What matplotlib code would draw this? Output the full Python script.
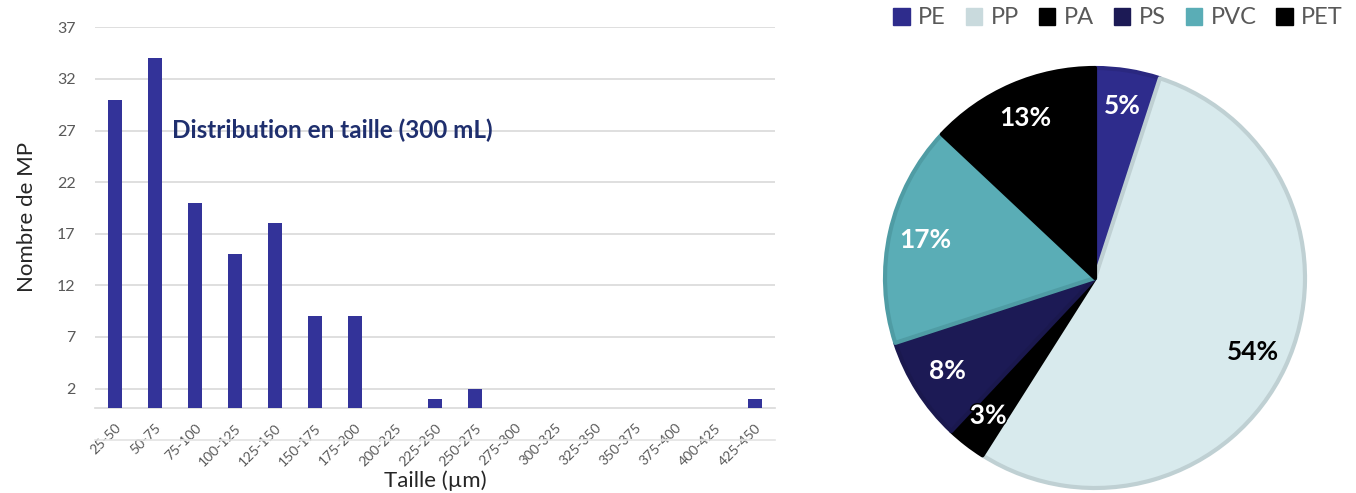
import matplotlib
import matplotlib.pyplot as plt
import matplotlib.patheffects as pe
from matplotlib.patches import Patch
from matplotlib.lines import Line2D
matplotlib.use('Agg')

# size distribution (number of microplastics per size class)
size_classes = ['25-50', '50-75', '75-100', '100-125', '125-150', '150-175',
                '175-200', '200-225', '225-250', '250-275', '275-300',
                '300-325', '325-350', '350-375', '375-400', '400-425',
                '425-450']
counts = [30, 34, 20, 15, 18, 9, 9, 0, 1, 2, 0, 0, 0, 0, 0, 0, 1]
y_ticks = [2, 7, 12, 17, 22, 27, 32, 37]

# polymer composition
polymers = ['PE', 'PP', 'PA', 'PS', 'PVC', 'PET']
shares = [5, 54, 3, 8, 17, 13]
poly_colors = ['#2E2C8C', '#D8EAED', '#000000', '#1C1A55', '#5AADB6', '#000000']
poly_edges = ['#2A2880', '#BFD0D3', '#000000', '#1A184E', '#4F9CA4', '#000000']
label_colors = ['white', 'black', 'white', 'white', 'white', 'white']

plt.rcParams['font.family'] = ['Lato', 'DejaVu Sans']

W, H = 1356, 493
fig = plt.figure(figsize=(W / 100, H / 100), dpi=100)

# ---- bar chart ----
ax = fig.add_axes([95 / W, (H - 407.7) / H, 680 / W, (407.7 - 27.3) / H])
x = range(len(size_classes))
ax.bar(x, counts, width=0.33, color='#333399', zorder=3)
ax.set_xlim(-0.5, len(size_classes) - 0.5)
ax.set_ylim(0.15, 37)
ax.set_yticks(y_ticks)
ax.yaxis.grid(True, color='#D9D9D9', linewidth=1.2)
ax.set_axisbelow(True)
for side in ['top', 'right', 'left']:
    ax.spines[side].set_visible(False)
ax.spines['bottom'].set_color('#D9D9D9')
ax.spines['bottom'].set_linewidth(1.2)
ax.tick_params(length=0, colors='#595959', labelsize=11.5, pad=14)
ax.tick_params(axis='x', pad=10, labelsize=10)
ax.set_xticks(list(x))
ax.set_xticklabels(size_classes, rotation=45, ha='right',
                   rotation_mode='anchor')
ax.set_xlabel('Taille (µm)', fontsize=16, color='#262626', labelpad=2)
ax.set_ylabel('Nombre de MP', fontsize=16, color='#262626', labelpad=14)
ax.text(172 / W, 1 - 130 / H, 'Distribution en taille (300 mL)',
        transform=fig.transFigure, fontsize=17.5, fontweight='bold',
        color='#1F2F6E', va='center', ha='left')
# faint line under the tick labels
fig.add_artist(Line2D([95 / W, 775 / W], [1 - 440 / H, 1 - 440 / H],
                      color='#E3E3E3', linewidth=1.2))

# ---- pie chart ----
ax2 = fig.add_axes([885 / W, (H - 488) / H, 420 / W, 420 / H])
wedges, texts, autotexts = ax2.pie(
    shares, colors=poly_colors, startangle=90, counterclock=False,
    autopct='%d%%', pctdistance=0.83,
    wedgeprops=dict(linewidth=3, joinstyle='round'),
    textprops=dict(fontsize=19, fontweight='bold'))
for w, ec in zip(wedges, poly_edges):
    w.set_edgecolor(ec)
    w.set_clip_on(False)
for t, c in zip(autotexts, label_colors):
    t.set_color(c)
autotexts[2].set_path_effects([pe.withStroke(linewidth=2,
                                             foreground='black')])
ax2.set_xlim(-1, 1)
ax2.set_ylim(-1, 1)
ax2.set_aspect('equal')

handles = [Patch(facecolor=c, edgecolor=c) for c in poly_colors]
handles[1] = Patch(facecolor='#C9DADD', edgecolor='#C9DADD')
fig.legend(handles, polymers, loc='center', ncol=6,
           bbox_to_anchor=(1118 / W, 1 - 18 / H), frameon=False,
           fontsize=17, handlelength=0.7, handleheight=0.7,
           handletextpad=0.35, columnspacing=0.85, labelcolor='#595959',
           borderpad=0.1)

fig.savefig('out.png', dpi=100)
